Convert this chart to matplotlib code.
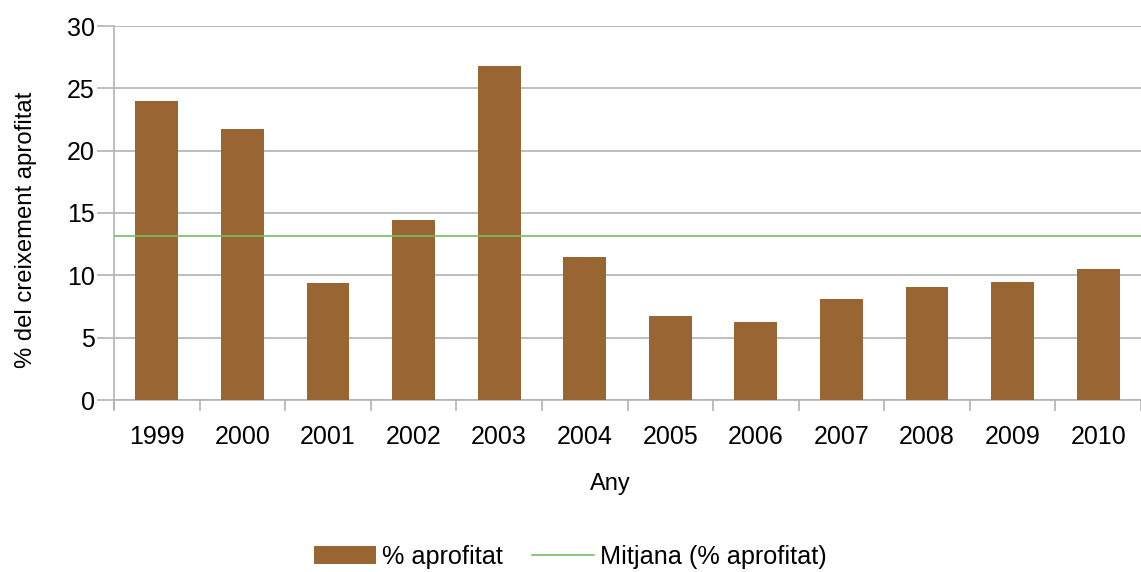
import numpy as np
import matplotlib.pyplot as plt
from matplotlib.lines import Line2D
from matplotlib.patches import Patch

plt.rcParams['font.family'] = ['Liberation Sans', 'DejaVu Sans']

anys = ['1999', '2000', '2001', '2002', '2003', '2004',
        '2005', '2006', '2007', '2008', '2009', '2010']
aprofitat = [24.0, 21.7, 9.4, 14.4, 26.8, 11.5, 6.7, 6.25, 8.1, 9.1, 9.5, 10.5]
mitjana = np.mean(aprofitat)

bar_color = '#996633'
line_color = '#77bc65'
grid_color = '#b3b3b3'

fig = plt.figure(figsize=(11.41, 5.72), dpi=100)
ax = fig.add_axes([114 / 1141, 1 - 400 / 572, 1 - 114 / 1141, 374 / 572])

x = np.arange(len(anys))
ax.bar(x, aprofitat, width=0.5, color=bar_color, zorder=3)
ax.axhline(mitjana, color=line_color, lw=1.2, zorder=4)

ax.set_xlim(-0.5, len(anys) - 0.5)
ax.set_ylim(0, 30)
ax.set_yticks(range(0, 31, 5))
ax.yaxis.grid(True, color=grid_color, lw=1.2, zorder=0)

# category labels centred, tick marks at the boundaries
ax.set_xticks(x)
ax.set_xticklabels(anys, fontsize=18)
ax.tick_params(axis='x', which='major', length=0, pad=18)
ax.set_xticks(np.arange(-0.5, len(anys)), minor=True)
ax.tick_params(axis='x', which='minor', length=8, width=1.2, color=grid_color)
ax.tick_params(axis='y', length=12, width=1.2, color=grid_color, labelsize=18, pad=2)

for s in ['top', 'right']:
    ax.spines[s].set_visible(False)
for s in ['left', 'bottom']:
    ax.spines[s].set_color(grid_color)
    ax.spines[s].set_linewidth(1.2)
ax.spines['left'].set_bounds(-0.65, 30)

ax.set_xlabel('Any', fontsize=17)
ax.xaxis.set_label_coords(0.483, -0.195)
ax.set_ylabel('% del creixement aprofitat', fontsize=17.2)
ax.yaxis.set_label_coords(-0.075, 0.455)

handles = [Patch(facecolor=bar_color, label='% aprofitat'),
           Line2D([0], [0], color=line_color, lw=1.2, label='Mitjana (% aprofitat)')]
fig.legend(handles=handles, loc='center', bbox_to_anchor=(0.5, 1 - 557 / 572),
           ncol=2, frameon=False, fontsize=18.2, handlelength=2.45, handleheight=0.7,
           handletextpad=0.25, columnspacing=1.15)

fig.savefig('out.png', dpi=100)
